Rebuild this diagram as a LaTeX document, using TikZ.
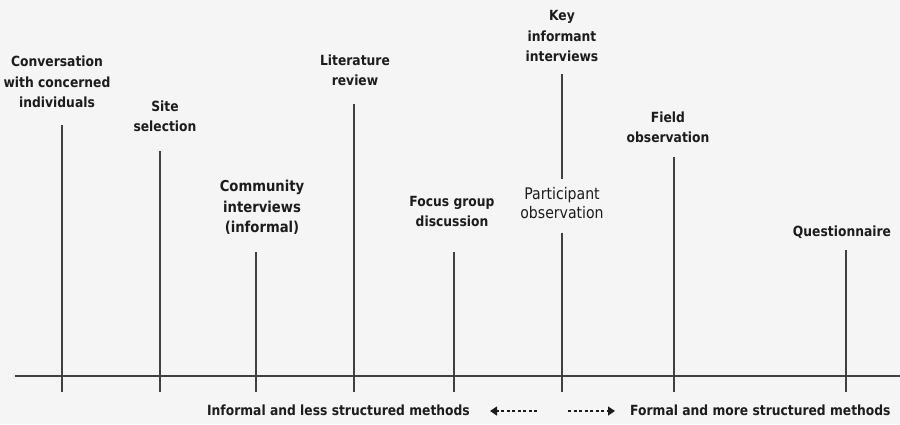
\documentclass[tikz,border=0pt]{standalone}
\usepackage{fontspec}
\setmainfont{DejaVu Sans}[FakeStretch=0.88]
\usetikzlibrary{arrows.meta}
\definecolor{ink}{HTML}{1C1C1C}
\definecolor{rule}{HTML}{404040}
\definecolor{paper}{HTML}{F5F5F5}
\begin{document}
\begin{tikzpicture}[x=1pt,y=-1pt,
  lab/.style={font=\bfseries\fontsize{14}{20.5}\selectfont, text=ink, align=center, inner sep=0pt, anchor=south},
  plainlab/.style={font=\fontsize{16}{19}\selectfont, text=ink, align=center, inner sep=0pt},
  stem/.style={draw=rule, line width=1.3pt},
  basetext/.style={font=\bfseries\fontsize{14}{17}\selectfont, text=ink, inner sep=0pt},
  dasharrow/.style={draw=ink, line width=1.3pt, dash pattern=on 3pt off 2.5pt, -{Triangle[length=7pt,width=9pt]}}
]
\fill[paper] (0,0) rectangle (900,424);
\useasboundingbox (0,0) rectangle (900,424);

% labels (south anchor = top of the stem)
\node[lab, text depth=17pt] (conv)  at (57,125)  {Conversation\\with concerned\\individuals};
\node[lab, text depth=19pt] (site)  at (165,151) {Site\\selection};
\node[lab, font=\bfseries\fontsize{15}{20.5}\selectfont, text depth=19pt] (comm)  at (262,252) {Community\\interviews\\(informal)};
\node[lab, text depth=18pt] (lit)   at (355,104) {Literature\\review};
\node[lab, text depth=25pt] (focus) at (452,252) {Focus group\\discussion};
\node[lab, text depth=12pt] (key)   at (562,74)  {Key\\informant\\interviews};
\node[plainlab, anchor=south, text depth=7pt, outer ysep=8pt] (part) at (562,233) {Participant\\observation};
\node[lab, text depth=14pt] (field) at (668,157) {Field\\observation};
\node[lab, text depth=13pt] (quest) at (842,250) {Questionnaire};

% stem bottoms
\coordinate (bconv)  at (62,392);
\coordinate (bsite)  at (160,392);
\coordinate (bcomm)  at (256,392);
\coordinate (blit)   at (354,392);
\coordinate (bfocus) at (454,392);
\coordinate (bpart)  at (562,392);
\coordinate (bfield) at (674,392);
\coordinate (bquest) at (846,392);

% axis
\coordinate (axl) at (15,376);
\coordinate (axr) at (900,376);
\draw[stem] (axl) -- (axr);

% stems
\draw[stem] (bconv)  -- (bconv |- conv.south);
\draw[stem] (bsite)  -- (bsite |- site.south);
\draw[stem] (bcomm)  -- (bcomm |- comm.south);
\draw[stem] (blit)   -- (blit |- lit.south);
\draw[stem] (bfocus) -- (bfocus |- focus.south);
\draw[stem] (key.south) -- (part.north);
\draw[stem] (bpart)  -- (bpart |- part.south);
\draw[stem] (bfield) -- (bfield |- field.south);
\draw[stem] (bquest) -- (bquest |- quest.south);

% bottom legend
\node[basetext, anchor=base east] (lt) at (470,415) {Informal and less structured methods};
\node[basetext, anchor=base west] (rt) at (630,415) {Formal and more structured methods};
\coordinate (lstart) at (537,411);
\coordinate (ltip)   at (490,411);
\coordinate (rstart) at (568,411);
\coordinate (rtip)   at (615,411);
\draw[dasharrow] (lstart) -- (ltip);
\draw[dasharrow] (rstart) -- (rtip);
\end{tikzpicture}
\end{document}
